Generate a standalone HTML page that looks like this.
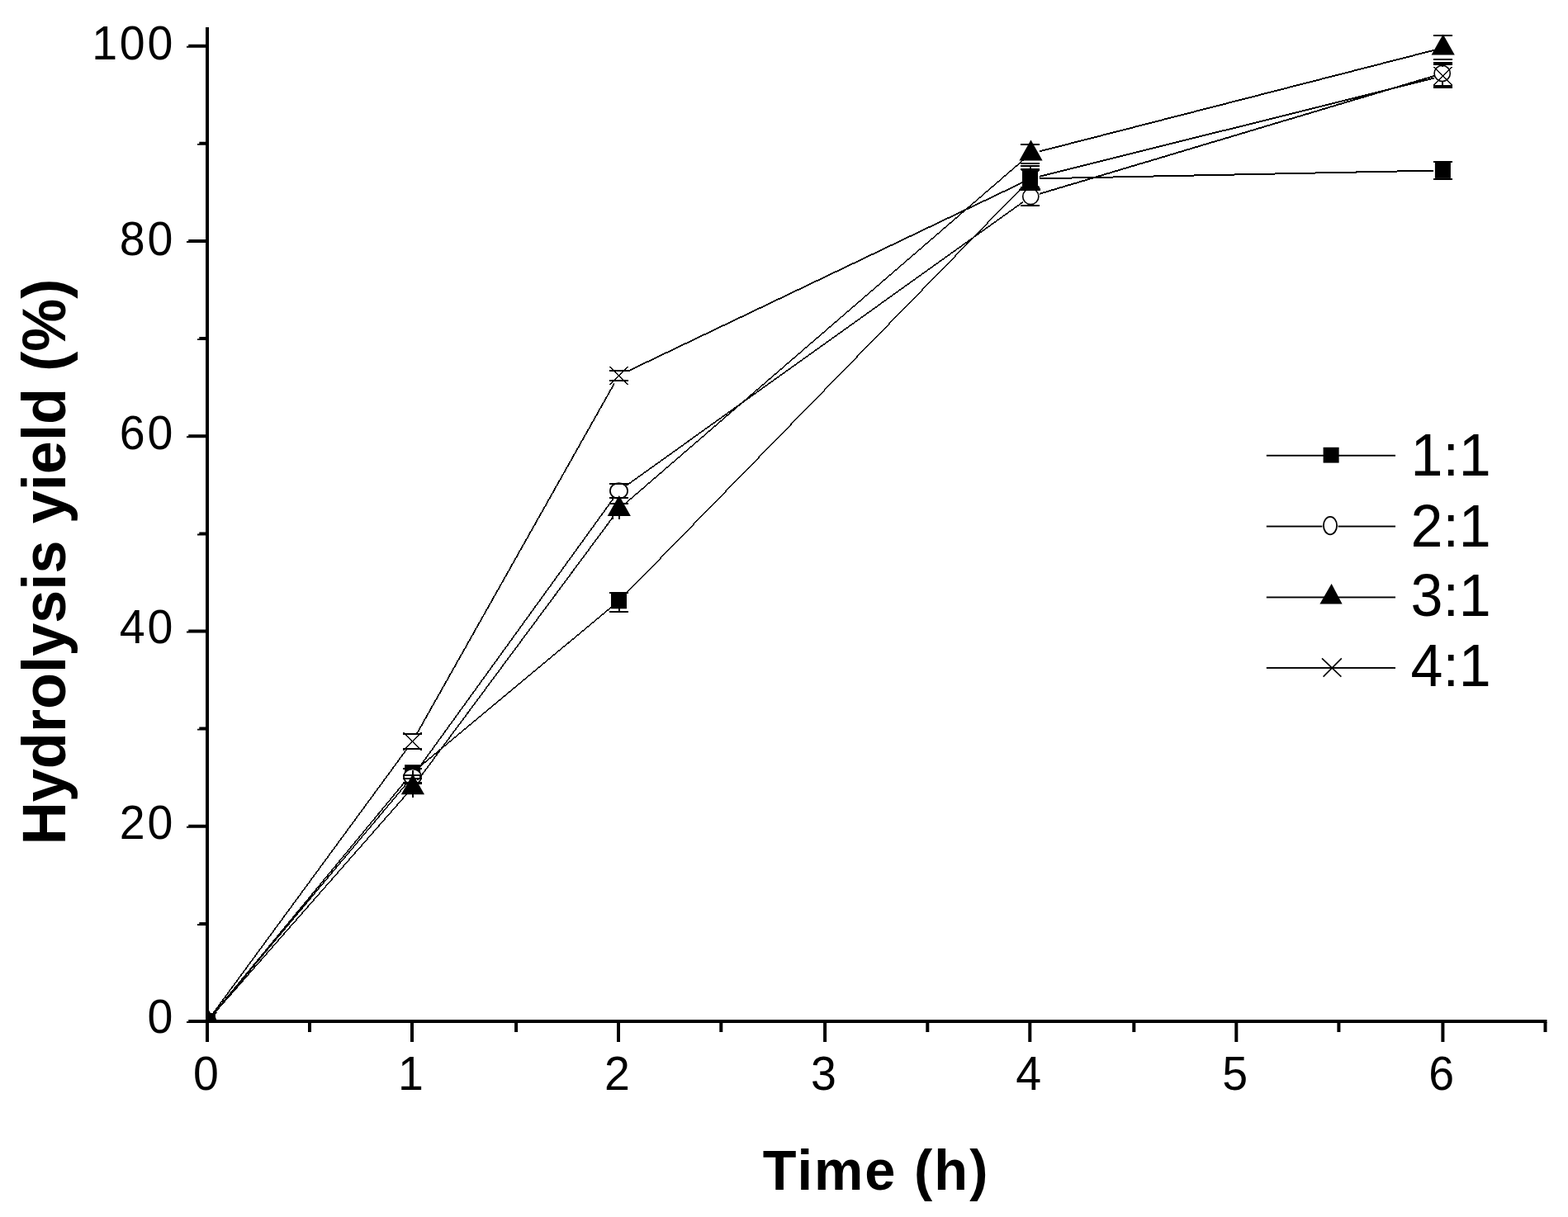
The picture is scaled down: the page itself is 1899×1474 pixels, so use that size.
<!DOCTYPE html>
<html lang="en"><head><meta charset="utf-8"><title>Hydrolysis yield vs Time</title>
<style>
html,body{margin:0;padding:0;background:#fff;width:1899px;height:1474px;}
svg{display:block;}
text{font-family:"Liberation Sans",sans-serif;fill:#000;}
.tk{font-size:55.5px;}
.lg{font-size:70px;}
.ttl{font-weight:bold;}
.d{stroke:#000;fill:none;shape-rendering:crispEdges;}
.m{stroke:#000;stroke-width:1.5;shape-rendering:crispEdges;}
.c{stroke:#000;stroke-width:2;fill:none;shape-rendering:crispEdges;}
</style></head><body>
<svg width="1899" height="1474" viewBox="0 0 1899 1474">
<rect x="0" y="0" width="1899" height="1474" fill="#fff"/>
<defs><clipPath id="plot"><rect x="253" y="0" width="1646" height="1235"/></clipPath></defs>
<g clip-path="url(#plot)">
<path class="d" stroke-width="1.54" d="M258.0 1228.5 L492.6 944.2"/>
<path class="d" stroke-width="1.54" d="M508.1 928.7 L741.0 734.8"/>
<path class="d" stroke-width="1.43" d="M757.2 719.9 L1240.5 224.4"/>
<path class="d" stroke-width="2.00" d="M1259.2 216.3 L1736.4 206.6"/>
<rect x="241.5" y="1227.5" width="19" height="19" fill="#000"/>
<rect x="490.1" y="926.2" width="19" height="19" fill="#000"/>
<rect x="740.0" y="718.3" width="19" height="19" fill="#000"/>
<rect x="1238.0" y="205.8" width="19" height="22" fill="#000"/>
<rect x="1737.9" y="196.9" width="19" height="19" fill="#000"/>
<path class="c" d="M488.1 931.0 H511.1 M488.1 940.4 H511.1"/>
<path class="c" d="M738.0 718.3 H761.0 M738.0 740.7 H761.0 M749.5 737.3 V740.7"/>
<path class="c" d="M1236.0 201.2 H1259.0 M1236.0 230.0 H1259.0 M1247.5 201.2 V207.0 M1247.5 226.0 V230.0"/>
<path class="c" d="M1735.9 196.0 H1758.9 M1735.9 216.8 H1758.9 M1747.4 196.0 V196.9 M1747.4 215.9 V216.8"/>
<path class="d" stroke-width="1.53" d="M258.1 1228.6 L492.5 949.1"/>
<path class="d" stroke-width="1.62" d="M506.0 931.8 L743.1 603.5"/>
<path class="d" stroke-width="1.63" d="M758.4 588.2 L1239.3 244.4"/>
<path class="d" stroke-width="1.92" d="M1258.7 234.9 L1736.9 92.0"/>
<ellipse cx="251.0" cy="1237.0" rx="10.6" ry="9.4" fill="#fff" stroke="#000" stroke-width="1.7"/>
<ellipse cx="499.6" cy="940.7" rx="10.6" ry="9.4" fill="#fff" stroke="#000" stroke-width="1.7"/>
<ellipse cx="749.5" cy="594.6" rx="10.6" ry="9.4" fill="#fff" stroke="#000" stroke-width="1.7"/>
<ellipse cx="1248.3" cy="238.0" rx="9.6" ry="9.6" fill="#fff" stroke="#000" stroke-width="1.6"/>
<ellipse cx="1746.7" cy="88.9" rx="9.6" ry="9.6" fill="#fff" stroke="#000" stroke-width="1.6"/>
<path class="c" d="M488.1 938.6 H511.1 M488.1 942.7 H511.1"/>
<path class="c" d="M738.0 586.1 H761.0 M738.0 603.3 H761.0"/>
<path class="c" d="M1236.0 227.0 H1259.0 M1236.0 248.9 H1259.0 M1247.5 227.0 V228.5 M1247.5 247.5 V248.9"/>
<path class="c" d="M1735.9 75.7 H1758.9 M1735.9 104.0 H1758.9 M1747.4 75.7 V79.4 M1747.4 98.4 V104.0"/>
<path class="d" stroke-width="1.50" d="M258.3 1228.7 L492.3 962.1"/>
<path class="d" stroke-width="1.61" d="M506.1 945.0 L743.0 625.4"/>
<path class="d" stroke-width="1.51" d="M757.8 609.4 L1239.9 193.3"/>
<path class="d" stroke-width="1.94" d="M1258.9 183.4 L1736.7 60.8"/>
<path d="M251.3 1220.4 L265.4 1245.4 L237.2 1245.4 Z" fill="#000"/>
<path d="M499.9 937.2 L514.0 962.2 L485.8 962.2 Z" fill="#000"/>
<path d="M749.8 600.0 L763.9 625.0 L735.7 625.0 Z" fill="#000"/>
<path d="M1248.5 169.5 L1262.6 194.5 L1234.4 194.5 Z" fill="#000"/>
<path d="M1747.7 41.5 L1761.8 66.5 L1733.6 66.5 Z" fill="#000"/>
<path class="c" d="M488.1 942.7 H511.1"/>
<path class="c" d="M738.0 610.4 H761.0 M738.0 622.6 H761.0"/>
<path class="c" d="M1236.0 174.8 H1259.0 M1236.0 197.5 H1259.0"/>
<path class="c" d="M1735.9 43.0 H1758.9 M1735.9 71.9 H1758.9"/>
<path class="d" stroke-width="1.61" d="M257.5 1228.1 L493.1 906.8"/>
<path class="d" stroke-width="1.74" d="M505.0 888.3 L744.1 464.3"/>
<path class="d" stroke-width="1.80" d="M759.4 450.0 L1238.3 221.1"/>
<path class="d" stroke-width="1.94" d="M1258.9 213.7 L1736.7 94.7"/>
<path class="m" d="M240.0 1226.0 L262.0 1248.0 M240.0 1248.0 L262.0 1226.0" fill="none"/>
<path class="m" d="M488.6 886.9 L510.6 908.9 M488.6 908.9 L510.6 886.9" fill="none"/>
<path class="m" d="M738.5 443.7 L760.5 465.7 M738.5 465.7 L760.5 443.7" fill="none"/>
<path class="m" d="M1237.2 205.4 L1259.2 227.4 M1237.2 227.4 L1259.2 205.4" fill="none"/>
<path class="m" d="M1736.4 81.0 L1758.4 103.0 M1736.4 103.0 L1758.4 81.0" fill="none"/>
<path class="c" d="M488.1 888.5 H511.1 M488.1 906.8 H511.1"/>
<path class="c" d="M738.0 449.1 H761.0 M738.0 460.7 H761.0"/>
<path class="c" d="M1236.0 205.0 H1259.0 M1236.0 228.0 H1259.0 M1247.5 205.0 V205.4 M1247.5 227.4 V228.0"/>
<path class="c" d="M1735.9 77.6 H1758.9 M1735.9 106.0 H1758.9 M1747.4 77.6 V81.0 M1747.4 103.0 V106.0"/>
<path class="d" stroke-width="2" d="M500 933 V939 M488 947.6 H511 M488 949 H511 M500 962 V966.3 M742.3 625 V629 M749.9 625 V629 M1248.3 201 V205 M1236.7 229 H1259.7 M1236.7 230.4 H1259.7 M1735.9 76.6 H1758.9 M1735.9 105 H1758.9"/>
<rect x="252" y="1227" width="8.8" height="9" fill="#000"/>
</g>
<g fill="#000">
<rect x="249" y="33" width="4" height="1229"/>
<rect x="249" y="1235" width="1624.5" height="4"/>
<path d="M228.2 1235.0 H250 V1239.0 H226 V1237.1 H228.2 Z"/>
<path d="M241.3 1116.9 H250 V1120.9 H239 V1119.0 H241.3 Z"/>
<path d="M228.2 998.7 H250 V1002.7 H226 V1000.8 H228.2 Z"/>
<path d="M241.3 880.6 H250 V884.6 H239 V882.7 H241.3 Z"/>
<path d="M228.2 762.5 H250 V766.5 H226 V764.6 H228.2 Z"/>
<path d="M241.3 644.4 H250 V648.4 H239 V646.5 H241.3 Z"/>
<path d="M228.2 526.2 H250 V530.2 H226 V528.3 H228.2 Z"/>
<path d="M241.3 408.1 H250 V412.1 H239 V410.2 H241.3 Z"/>
<path d="M228.2 290.0 H250 V294.0 H226 V292.1 H228.2 Z"/>
<path d="M241.3 171.8 H250 V175.8 H239 V173.9 H241.3 Z"/>
<path d="M228.2 53.7 H250 V57.7 H226 V55.8 H228.2 Z"/>
<rect x="373.0" y="1238" width="4" height="12"/>
<rect x="497.0" y="1238" width="4" height="24"/>
<rect x="623.1" y="1238" width="4" height="12"/>
<rect x="747.0" y="1238" width="4" height="24"/>
<rect x="871.3" y="1238" width="4" height="12"/>
<rect x="997.1" y="1238" width="4" height="24"/>
<rect x="1121.3" y="1238" width="4" height="12"/>
<rect x="1245.3" y="1238" width="4" height="24"/>
<rect x="1371.3" y="1238" width="4" height="12"/>
<rect x="1495.3" y="1238" width="4" height="24"/>
<rect x="1619.4" y="1238" width="4" height="12"/>
<rect x="1745.4" y="1238" width="4" height="24"/>
<rect x="1869.5" y="1238" width="4" height="12"/>
</g>
<text class="tk" transform="translate(212.0 1251.0) scale(1 1.030)" text-anchor="end" letter-spacing="2.7">0</text>
<text class="tk" transform="translate(212.0 1015.5) scale(1 1.030)" text-anchor="end" letter-spacing="2.7">20</text>
<text class="tk" transform="translate(212.0 779.1) scale(1 1.030)" text-anchor="end" letter-spacing="2.7">40</text>
<text class="tk" transform="translate(212.0 543.6) scale(1 1.030)" text-anchor="end" letter-spacing="2.7">60</text>
<text class="tk" transform="translate(212.0 308.6) scale(1 1.030)" text-anchor="end" letter-spacing="2.7">80</text>
<text class="tk" transform="translate(212.0 72.0) scale(1 1.030)" text-anchor="end" letter-spacing="2.7">100</text>
<text class="tk" transform="translate(249.3 1320.0) scale(1 1.030)" text-anchor="middle">0</text>
<text class="tk" transform="translate(497.3 1320.0) scale(1 1.030)" text-anchor="middle">1</text>
<text class="tk" transform="translate(747.3 1320.0) scale(1 1.030)" text-anchor="middle">2</text>
<text class="tk" transform="translate(997.4 1320.0) scale(1 1.030)" text-anchor="middle">3</text>
<text class="tk" transform="translate(1245.6 1320.0) scale(1 1.030)" text-anchor="middle">4</text>
<text class="tk" transform="translate(1495.6 1320.0) scale(1 1.030)" text-anchor="middle">5</text>
<text class="tk" transform="translate(1745.7 1320.0) scale(1 1.030)" text-anchor="middle">6</text>
<text class="ttl" font-size="66.7" transform="translate(923.8 1440.8) scale(1 1.03)" textLength="272.6" lengthAdjust="spacing">Time (h)</text>
<text class="ttl" font-size="72" transform="translate(79.3 1023.3) rotate(-90) scale(1 1.02)" textLength="685.6" lengthAdjust="spacing">Hydrolysis yield (%)</text>
<rect x="1533.8" y="550.8" width="156.2" height="1.9" fill="#000"/>
<rect x="1602.6" y="541.8" width="19" height="18.8" fill="#000"/>
<text class="lg" transform="translate(1708.5 576.0) scale(1 1.025)" text-anchor="start">1:1</text>
<rect x="1533.8" y="636.6" width="67.6" height="1.9" fill="#000"/>
<rect x="1620.6" y="636.6" width="69.4" height="1.9" fill="#000"/>
<ellipse cx="1611" cy="636.6" rx="8.1" ry="10.7" fill="#fff" stroke="#000" stroke-width="1.8"/>
<text class="lg" transform="translate(1708.5 661.7) scale(1 1.025)" text-anchor="start">2:1</text>
<rect x="1533.8" y="722.5" width="156.2" height="1.9" fill="#000"/>
<path d="M1612.6 707.1 L1625.6 731.5 L1598.4 731.5 Z" fill="#000"/>
<text class="lg" transform="translate(1708.5 745.9) scale(1 1.025)" text-anchor="start">3:1</text>
<rect x="1533.8" y="808.0" width="156.2" height="1.9" fill="#000"/>
<path d="M1601 797.4 L1624.4 819.6 M1602.6 819.6 L1624.8 797.4" fill="none" stroke="#000" stroke-width="1.6"/>
<text class="lg" transform="translate(1708.5 831.4) scale(1 1.025)" text-anchor="start">4:1</text>
</svg>
</body></html>
